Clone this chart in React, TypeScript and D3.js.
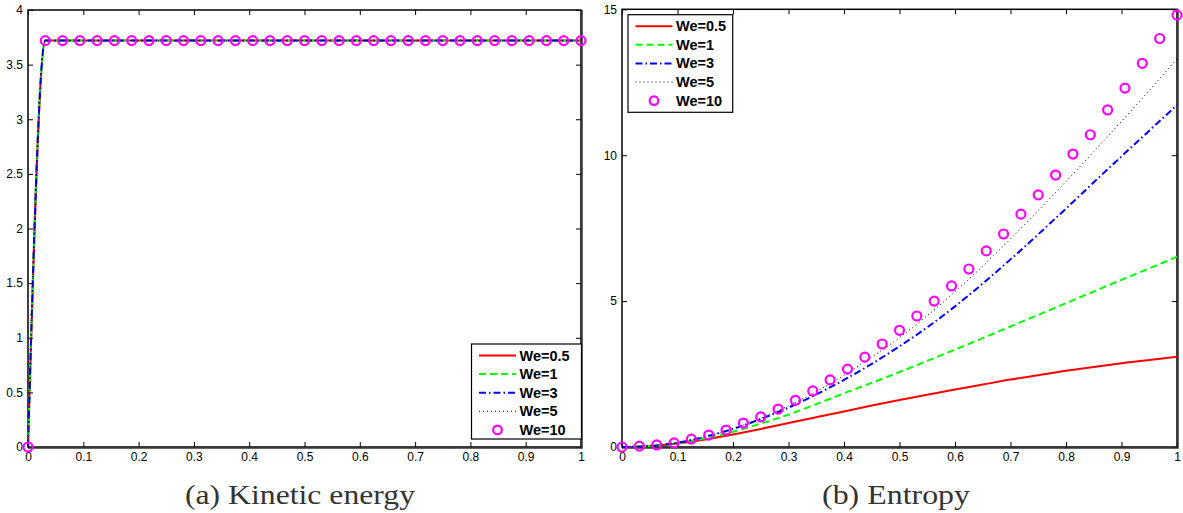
import React, { useEffect, useRef } from 'react';
import * as d3 from 'd3';

// sample grid (markers) shared by both panels
const sampleX = [0, 0.03125, 0.0625, 0.09375, 0.125, 0.15625, 0.1875, 0.21875, 0.25, 0.28125,
  0.3125, 0.34375, 0.375, 0.40625, 0.4375, 0.46875, 0.5, 0.53125, 0.5625, 0.59375, 0.625,
  0.65625, 0.6875, 0.71875, 0.75, 0.78125, 0.8125, 0.84375, 0.875, 0.90625, 0.9375, 0.96875, 1];

// (a) kinetic energy, all We values lie on top of each other
const kineticEnergy = [0, 3.72, 3.72, 3.72, 3.72, 3.72, 3.72, 3.72, 3.72, 3.72, 3.72, 3.72,
  3.72, 3.72, 3.72, 3.72, 3.72, 3.72, 3.72, 3.72, 3.72, 3.72, 3.72, 3.72, 3.72, 3.72, 3.72,
  3.72, 3.72, 3.72, 3.72, 3.72, 3.72];

// (b) entropy curves
const lineX = [0, 0.05, 0.1, 0.15, 0.2, 0.25, 0.3, 0.35, 0.4, 0.45, 0.5, 0.55, 0.6, 0.65, 0.7,
  0.75, 0.8, 0.85, 0.9, 0.95, 1];
const entropyWe05 = [0, 0.03, 0.12, 0.26, 0.43, 0.62, 0.82, 1.02, 1.22, 1.42, 1.61, 1.79, 1.97,
  2.14, 2.31, 2.46, 2.61, 2.74, 2.87, 2.98, 3.09];
const entropyWe1 = [0, 0.03, 0.13, 0.3, 0.52, 0.8, 1.11, 1.47, 1.84, 2.2, 2.57, 2.95, 3.34,
  3.73, 4.13, 4.53, 4.93, 5.33, 5.73, 6.12, 6.52];
const entropyWe3 = [0, 0.03, 0.15, 0.35, 0.62, 0.96, 1.35, 1.8, 2.3, 2.85, 3.45, 4.1, 4.82,
  5.6, 6.43, 7.29, 8.17, 9.07, 9.96, 10.84, 11.72];
const entropyWe5 = [0, 0.04, 0.16, 0.36, 0.63, 0.98, 1.41, 1.9, 2.46, 3.08, 3.75, 4.5, 5.32,
  6.2, 7.13, 8.1, 9.1, 10.12, 11.16, 12.22, 13.3];
const entropyWe10 = [0, 0.03, 0.07, 0.14, 0.27, 0.41, 0.58, 0.82, 1.03, 1.3, 1.6, 1.92, 2.3,
  2.67, 3.08, 3.53, 4.0, 4.49, 5.0, 5.52, 6.1, 6.72, 7.3, 7.98, 8.64, 9.32, 10.04, 10.7, 11.55,
  12.3, 13.15, 14.0, 14.8];

const xTicks = [0, 0.1, 0.2, 0.3, 0.4, 0.5, 0.6, 0.7, 0.8, 0.9, 1];
const kineticTicks = [0, 0.5, 1, 1.5, 2, 2.5, 3, 3.5, 4];
const entropyTicks = [0, 5, 10, 15];
const legendLabels = ['We=0.5', 'We=1', 'We=3', 'We=5', 'We=10'];

const lineStyles = [
  { color: '#ff0000', dash: null, width: 2 },
  { color: '#00ff00', dash: '7,4', width: 2 },
  { color: '#0000ff', dash: '7,3,1.5,3', width: 2 },
  { color: '#000000', dash: '1,3', width: 1 },
];
const markerColor = '#ff00ff';
const tickFont = '"Liberation Sans", Arial, sans-serif';

type Panel = {
  left: number; right: number; top: number; bottom: number;
  yDomain: [number, number];
  yTicks: number[];
  lines: { xs: number[]; ys: number[] }[];
  markers: { xs: number[]; ys: number[] };
  legend: { x: number; y: number; w: number; h: number };
  caption: string;
  captionX: number;
  captionWidth: number;
};

function drawPanel(svg: any, p: Panel) {
  const x = d3.scaleLinear().domain([0, 1]).range([p.left, p.right]);
  const y = d3.scaleLinear().domain(p.yDomain).range([p.bottom, p.top]);
  const g = svg.append('g');

  const styleAxis = (sel: any) => {
    sel.select('.domain').remove();
    sel.attr('font-family', tickFont).attr('font-size', 12);
    sel.selectAll('line').attr('stroke', '#000');
    sel.selectAll('text').attr('fill', '#000');
  };
  const fmt = (d: any) => String(d);

  g.append('g').attr('transform', `translate(0,${p.bottom})`)
    .call(d3.axisBottom(x).tickValues(xTicks).tickFormat(fmt).tickSizeInner(-5).tickSizeOuter(0).tickPadding(5))
    .call(styleAxis);
  g.append('g').attr('transform', `translate(0,${p.top})`)
    .call(d3.axisTop(x).tickValues(xTicks).tickFormat(() => '').tickSizeInner(-5).tickSizeOuter(0))
    .call(styleAxis);
  g.append('g').attr('transform', `translate(${p.left},0)`)
    .call(d3.axisLeft(y).tickValues(p.yTicks).tickFormat(fmt).tickSizeInner(-5).tickSizeOuter(0).tickPadding(5))
    .call(styleAxis);
  g.append('g').attr('transform', `translate(${p.right},0)`)
    .call(d3.axisRight(y).tickValues(p.yTicks).tickFormat(() => '').tickSizeInner(-5).tickSizeOuter(0))
    .call(styleAxis);

  // plot box
  g.append('rect')
    .attr('x', p.left).attr('y', p.top)
    .attr('width', p.right - p.left).attr('height', p.bottom - p.top)
    .attr('fill', 'none').attr('stroke', '#000').attr('stroke-width', 1.5);
  g.append('path')
    .attr('d', `M${p.right + 1},${p.top}V${p.bottom + 1}H${p.left}`)
    .attr('fill', 'none').attr('stroke', '#333').attr('stroke-width', 1.5);

  p.lines.forEach((ln, i) => {
    const st = lineStyles[i];
    const pts = ln.xs.map((v, k) => [x(v), y(ln.ys[k])] as [number, number]);
    g.append('path')
      .attr('d', d3.line().curve(d3.curveMonotoneX)(pts))
      .attr('fill', 'none')
      .attr('stroke', st.color)
      .attr('stroke-width', st.width)
      .attr('stroke-dasharray', st.dash);
  });

  g.selectAll('circle.mk')
    .data(p.markers.xs)
    .join('circle')
    .attr('class', 'mk')
    .attr('cx', (d: number) => x(d))
    .attr('cy', (d: number, k: number) => y(p.markers.ys[k]))
    .attr('r', 4.5)
    .attr('fill', 'none')
    .attr('stroke', markerColor)
    .attr('stroke-width', 2.2);

  // legend
  const L = p.legend;
  const lg = g.append('g').attr('transform', `translate(${L.x},${L.y})`);
  lg.append('rect').attr('width', L.w).attr('height', L.h)
    .attr('fill', '#fff').attr('stroke', '#000').attr('stroke-width', 1.2);
  legendLabels.forEach((lab, i) => {
    const cy = 11.5 + i * 18.6;
    if (i < lineStyles.length) {
      const st = lineStyles[i];
      lg.append('line').attr('x1', 7.5).attr('x2', 44.5).attr('y1', cy).attr('y2', cy)
        .attr('stroke', st.color).attr('stroke-width', st.width)
        .attr('stroke-dasharray', st.dash);
    } else {
      lg.append('circle').attr('cx', 26).attr('cy', cy).attr('r', 4.3)
        .attr('fill', 'none').attr('stroke', markerColor).attr('stroke-width', 2.2);
    }
    lg.append('text').attr('x', 48).attr('y', cy + 5)
      .attr('font-family', tickFont).attr('font-weight', 'bold').attr('font-size', 14.5)
      .attr('fill', '#000').text(lab);
  });

  svg.append('text')
    .attr('x', p.captionX).attr('y', 504)
    .attr('text-anchor', 'middle')
    .attr('font-family', '"Liberation Serif", "DejaVu Serif", serif')
    .attr('font-size', 28)
    .attr('textLength', p.captionWidth)
    .attr('lengthAdjust', 'spacingAndGlyphs')
    .attr('fill', '#333')
    .text(p.caption);
}

export default function App() {
  const svgRef = useRef<SVGSVGElement | null>(null);

  useEffect(() => {
    const svg = d3.select(svgRef.current);
    svg.selectAll('*').remove();

    drawPanel(svg, {
      left: 28, right: 581, top: 10, bottom: 447,
      yDomain: [0, 4], yTicks: kineticTicks,
      lines: [0, 1, 2, 3].map(() => ({ xs: sampleX, ys: kineticEnergy })),
      markers: { xs: sampleX, ys: kineticEnergy },
      legend: { x: 471.5, y: 344, w: 110, h: 95 },
      caption: '(a) Kinetic energy',
      captionX: 300, captionWidth: 230,
    });

    drawPanel(svg, {
      left: 622, right: 1177, top: 9.3, bottom: 447,
      yDomain: [0, 15], yTicks: entropyTicks,
      lines: [entropyWe05, entropyWe1, entropyWe3, entropyWe5].map(ys => ({ xs: lineX, ys })),
      markers: { xs: sampleX, ys: entropyWe10 },
      legend: { x: 628, y: 14.7, w: 104.7, h: 97.6 },
      caption: '(b) Entropy',
      captionX: 896, captionWidth: 148,
    });
  }, []);

  return (
    <div style={{ position: 'absolute', left: 0, top: 0 }}>
      <svg ref={svgRef} width={1183} height={513} style={{ display: 'block', background: '#fff' }} />
    </div>
  );
}
